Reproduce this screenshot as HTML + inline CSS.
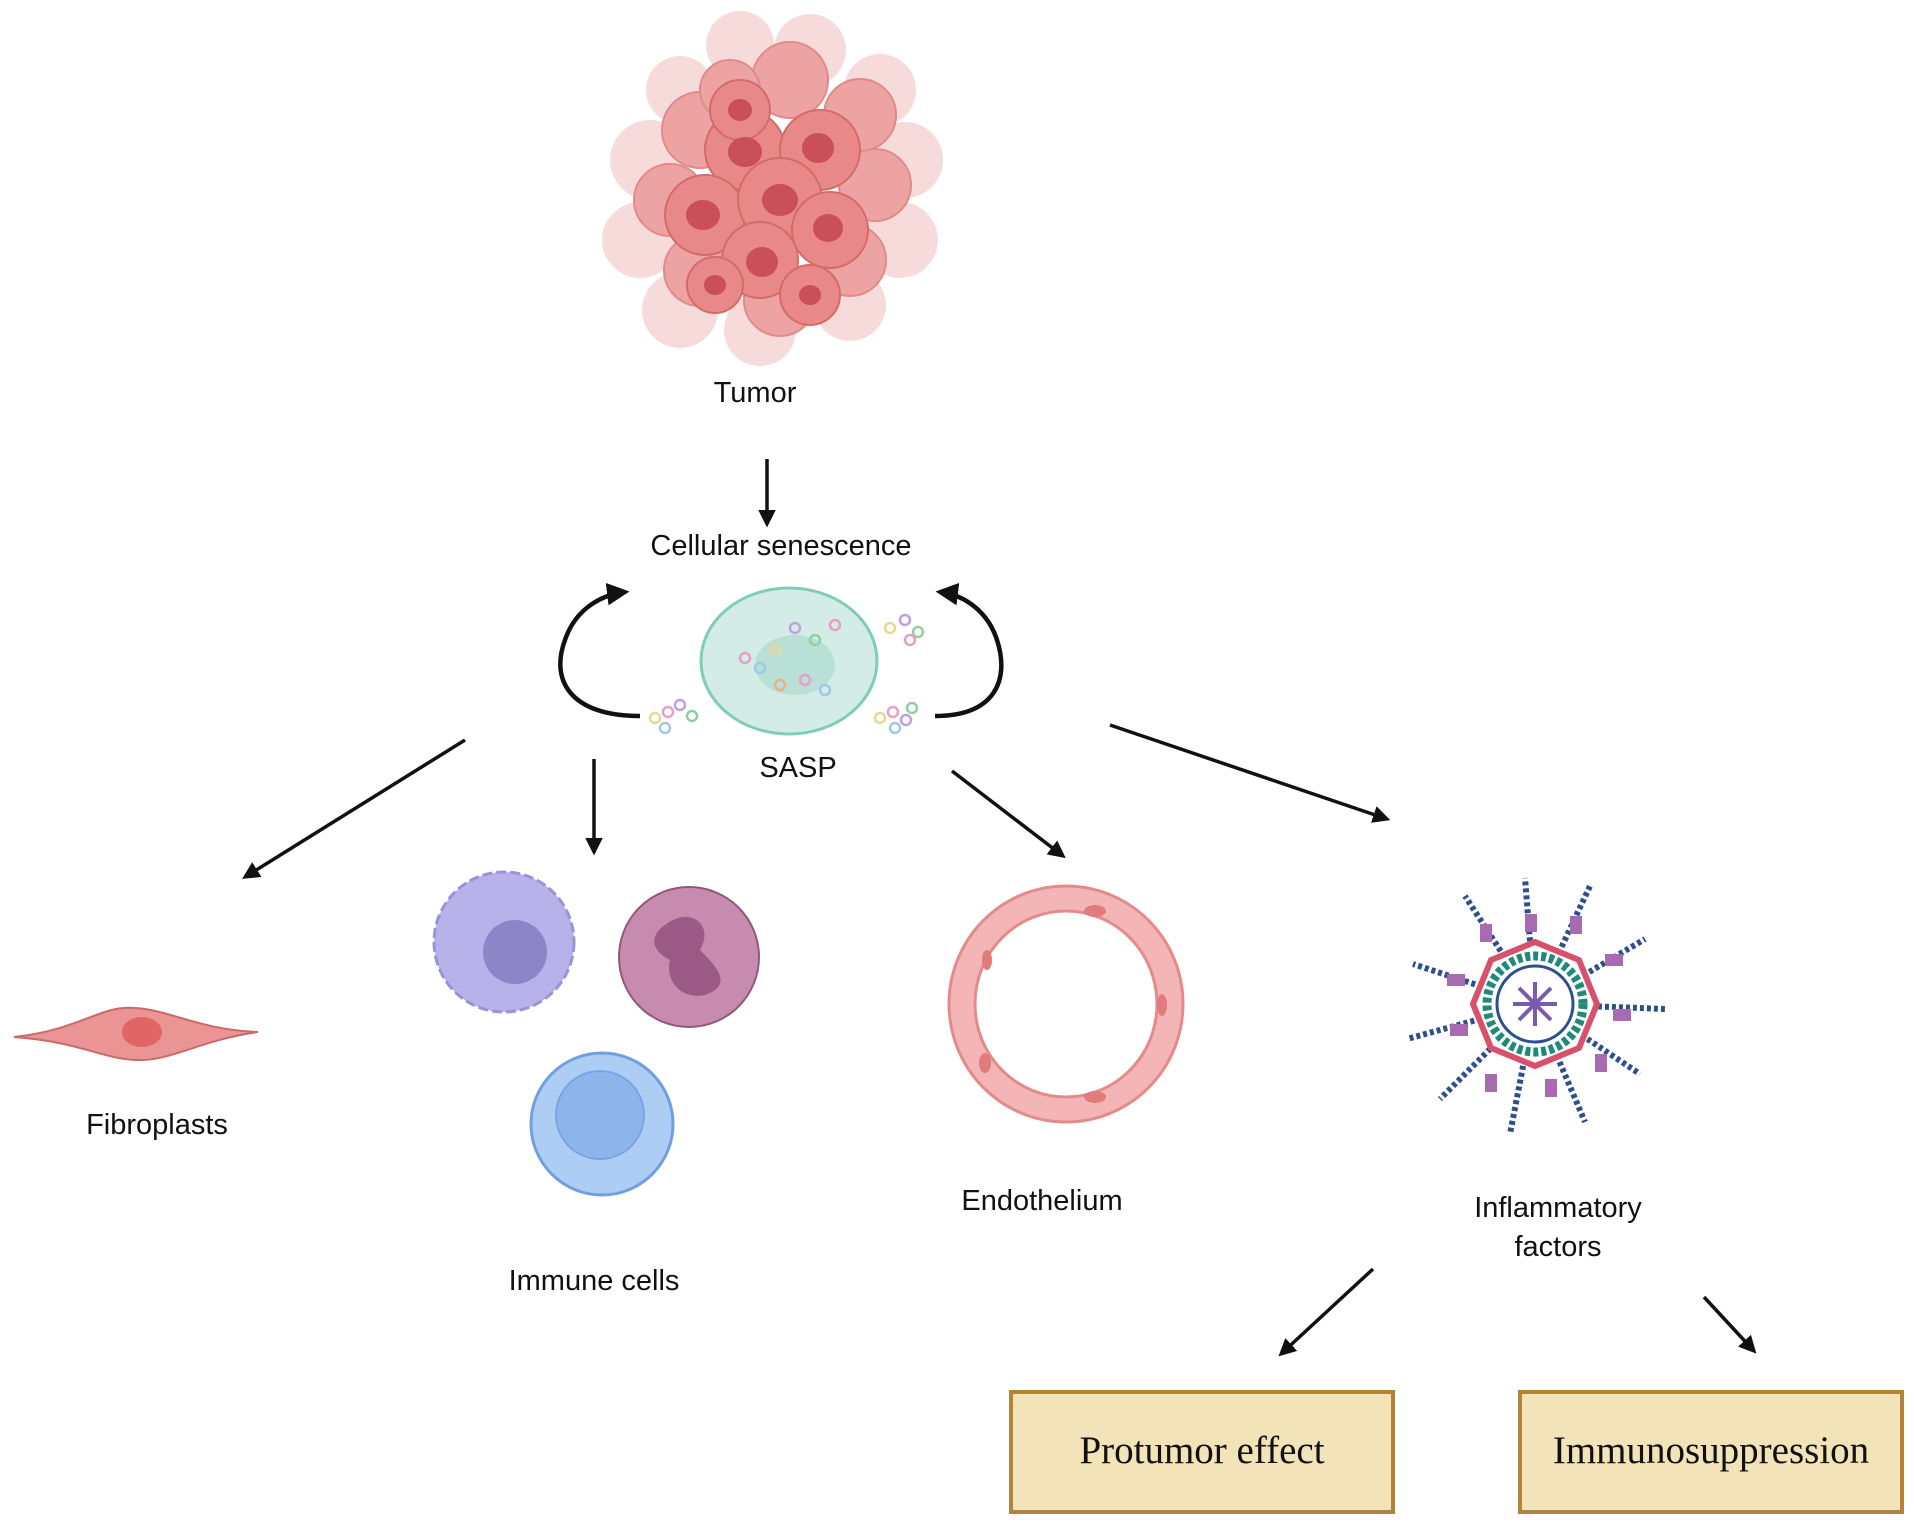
<!DOCTYPE html>
<html><head><meta charset="utf-8"><style>
html,body{margin:0;padding:0;background:#fff;}
svg{display:block;}
text{font-family:"Liberation Sans",sans-serif;fill:#111;}
</style></head><body>
<svg width="1914" height="1524" viewBox="0 0 1914 1524" xmlns="http://www.w3.org/2000/svg">
<defs>
<marker id="ah" viewBox="0 0 10 10" refX="8" refY="5" markerWidth="5" markerHeight="5" orient="auto"><path d="M0,0 L10,5 L0,10 z" fill="#111"/></marker>
</defs>

<!-- Tumor -->
<g>
<g fill="#f6d2d2" opacity="0.8">
<circle cx="650" cy="160" r="40"/><circle cx="640" cy="240" r="38"/><circle cx="680" cy="310" r="38"/>
<circle cx="760" cy="330" r="36"/><circle cx="850" cy="305" r="36"/><circle cx="900" cy="240" r="38"/>
<circle cx="905" cy="160" r="38"/><circle cx="880" cy="90" r="36"/><circle cx="810" cy="50" r="36"/>
<circle cx="740" cy="45" r="34"/><circle cx="680" cy="90" r="34"/>
</g>
<g fill="#eea3a3" stroke="#e08a8a" stroke-width="2">
<circle cx="700" cy="130" r="38"/><circle cx="670" cy="200" r="36"/><circle cx="700" cy="270" r="36"/>
<circle cx="780" cy="300" r="36"/><circle cx="850" cy="260" r="36"/><circle cx="875" cy="185" r="36"/>
<circle cx="860" cy="115" r="36"/><circle cx="790" cy="80" r="38"/><circle cx="730" cy="90" r="30"/>
</g>
<g fill="#e88888" stroke="#d46b6b" stroke-width="2">
<circle cx="745" cy="150" r="40"/><circle cx="820" cy="150" r="40"/><circle cx="705" cy="215" r="40"/>
<circle cx="780" cy="200" r="42"/><circle cx="830" cy="230" r="38"/><circle cx="760" cy="260" r="38"/>
<circle cx="740" cy="110" r="30"/><circle cx="715" cy="285" r="28"/><circle cx="810" cy="295" r="30"/>
</g>
<g fill="#c94f5a">
<ellipse cx="745" cy="152" rx="17" ry="15"/><ellipse cx="818" cy="148" rx="16" ry="15"/><ellipse cx="703" cy="215" rx="17" ry="15"/>
<ellipse cx="780" cy="200" rx="18" ry="16"/><ellipse cx="828" cy="228" rx="15" ry="14"/><ellipse cx="762" cy="262" rx="16" ry="15"/>
<ellipse cx="740" cy="110" rx="12" ry="11"/><ellipse cx="715" cy="285" rx="11" ry="10"/><ellipse cx="810" cy="295" rx="11" ry="10"/>
</g>
</g>
<text x="755" y="402" font-size="29" text-anchor="middle">Tumor</text>

<line x1="767" y1="459" x2="767" y2="524" stroke="#111" stroke-width="3.5" marker-end="url(#ah)"/>
<text x="781" y="555" font-size="29" text-anchor="middle">Cellular senescence</text>

<!-- Senescent cell -->
<ellipse cx="789" cy="661" rx="88" ry="73" fill="#d3ece5" stroke="#7fcdb8" stroke-width="3"/>
<ellipse cx="795" cy="665" rx="40" ry="30" fill="#b8e0d5"/>
<g fill="none" stroke-width="2.5">
<circle cx="745" cy="658" r="5" stroke="#e6a0c8"/><circle cx="760" cy="668" r="5" stroke="#a0c8e8"/><circle cx="775" cy="650" r="5" stroke="#e8d890"/>
<circle cx="795" cy="628" r="5" stroke="#c0a0e0"/><circle cx="815" cy="640" r="5" stroke="#90d0a0"/><circle cx="805" cy="680" r="5" stroke="#e6a0c8"/>
<circle cx="825" cy="690" r="5" stroke="#a0c8e8"/><circle cx="780" cy="685" r="5" stroke="#e8b090"/><circle cx="835" cy="625" r="5" stroke="#e6a0c8"/>
<circle cx="890" cy="628" r="5" stroke="#e8d890"/><circle cx="905" cy="620" r="5" stroke="#c0a0e0"/><circle cx="918" cy="632" r="5" stroke="#90d0a0"/><circle cx="910" cy="640" r="5" stroke="#e6a0c8"/>
<circle cx="655" cy="718" r="5" stroke="#e8d890"/><circle cx="668" cy="712" r="5" stroke="#e6a0c8"/><circle cx="680" cy="705" r="5" stroke="#c0a0e0"/><circle cx="692" cy="716" r="5" stroke="#90d0a0"/><circle cx="665" cy="728" r="5" stroke="#a0c8e8"/>
<circle cx="880" cy="718" r="5" stroke="#e8d890"/><circle cx="893" cy="712" r="5" stroke="#e6a0c8"/><circle cx="906" cy="720" r="5" stroke="#c0a0e0"/><circle cx="912" cy="708" r="5" stroke="#90d0a0"/><circle cx="895" cy="728" r="5" stroke="#a0c8e8"/>
</g>
<path d="M640,716 C570,716 550,680 565,640 C575,610 600,595 625,592" fill="none" stroke="#111" stroke-width="4.5" marker-end="url(#ah)"/>
<path d="M935,716 C995,716 1010,680 997,640 C988,612 965,595 940,592" fill="none" stroke="#111" stroke-width="4.5" marker-end="url(#ah)"/>
<text x="798" y="777" font-size="29" text-anchor="middle">SASP</text>

<g stroke="#111" stroke-width="3.5" marker-end="url(#ah)">
<line x1="465" y1="740" x2="245" y2="877"/>
<line x1="594" y1="759" x2="594" y2="852"/>
<line x1="952" y1="771" x2="1063" y2="856"/>
<line x1="1110" y1="725" x2="1387" y2="819"/>
<line x1="1373" y1="1269" x2="1281" y2="1354"/>
<line x1="1704" y1="1297" x2="1754" y2="1351"/>
</g>

<!-- Fibroblast -->
<path d="M14,1037 C80,1030 100,1005 135,1008 C170,1010 200,1030 258,1032 C200,1040 170,1062 135,1060 C100,1058 80,1042 14,1037 z" fill="#eb9494" stroke="#c96a6a" stroke-width="2"/>
<ellipse cx="142" cy="1032" rx="20" ry="15" fill="#e06666"/>
<text x="157" y="1134" font-size="29" text-anchor="middle">Fibroplasts</text>

<!-- Immune cells -->
<circle cx="504" cy="942" r="70" fill="#b7b2ea" stroke="#9a93d8" stroke-width="3" stroke-dasharray="10 4"/>
<circle cx="515" cy="952" r="32" fill="#8d85c8"/>
<circle cx="689" cy="957" r="70" fill="#c88bb0" stroke="#8f5a7a" stroke-width="2"/>
<path d="M665,925 C690,905 715,925 700,950 C715,965 735,985 705,995 C680,1000 665,980 670,960 C650,950 650,935 665,925 z" fill="#9b5a85"/>
<circle cx="602" cy="1124" r="71" fill="#aecdf5" stroke="#6f9fe0" stroke-width="3"/>
<circle cx="600" cy="1115" r="44" fill="#8db5ec" stroke="#7aa5e4" stroke-width="2"/>
<text x="594" y="1290" font-size="29" text-anchor="middle">Immune cells</text>

<!-- Endothelium -->
<ellipse cx="1066" cy="1004" rx="117" ry="118" fill="#f3b5b5" stroke="#e58a8a" stroke-width="3"/>
<ellipse cx="1066" cy="1004" rx="91" ry="93" fill="#fff" stroke="#e58a8a" stroke-width="3"/>
<g fill="#e27c7c">
<ellipse cx="1095" cy="911" rx="11" ry="6"/><ellipse cx="987" cy="960" rx="5" ry="10"/><ellipse cx="1162" cy="1005" rx="5" ry="11"/>
<ellipse cx="985" cy="1063" rx="6" ry="10"/><ellipse cx="1095" cy="1097" rx="11" ry="6"/>
</g>
<text x="1042" y="1210" font-size="29" text-anchor="middle">Endothelium</text>

<!-- Inflammatory factors -->
<g transform="translate(1535,1004)">
<g stroke="#2e4f8f" stroke-width="6" stroke-dasharray="4 3">
<line x1="0" y1="0" x2="-10" y2="-126"/><line x1="0" y1="0" x2="55" y2="-118"/><line x1="0" y1="0" x2="110" y2="-65"/>
<line x1="0" y1="0" x2="130" y2="5"/><line x1="0" y1="0" x2="105" y2="70"/><line x1="0" y1="0" x2="50" y2="118"/>
<line x1="0" y1="0" x2="-25" y2="130"/><line x1="0" y1="0" x2="-95" y2="95"/><line x1="0" y1="0" x2="-128" y2="35"/>
<line x1="0" y1="0" x2="-122" y2="-40"/><line x1="0" y1="0" x2="-70" y2="-108"/>
</g>
<g fill="#a86ab0">
<rect x="-10" y="-90" width="12" height="18"/><rect x="35" y="-88" width="12" height="18"/><rect x="70" y="-50" width="18" height="12"/>
<rect x="78" y="5" width="18" height="12"/><rect x="60" y="50" width="12" height="18"/><rect x="10" y="75" width="12" height="18"/>
<rect x="-50" y="70" width="12" height="18"/><rect x="-85" y="20" width="18" height="12"/><rect x="-88" y="-30" width="18" height="12"/><rect x="-55" y="-80" width="12" height="18"/>
</g>
<polygon points="0,-62 44,-44 62,0 44,44 0,62 -44,44 -62,0 -44,-44" fill="#fff" stroke="#d8516b" stroke-width="6"/>
<circle r="48" fill="none" stroke="#1f8a7a" stroke-width="9" stroke-dasharray="5 3"/>
<circle r="38" fill="#fff" stroke="#2e4f8f" stroke-width="3"/>
<g stroke="#7a5bb0" stroke-width="4">
<line x1="-22" y1="0" x2="22" y2="0"/><line x1="0" y1="-22" x2="0" y2="22"/><line x1="-16" y1="-16" x2="16" y2="16"/><line x1="-16" y1="16" x2="16" y2="-16"/>
</g>
</g>
<text x="1558" y="1217" font-size="29" text-anchor="middle">Inflammatory</text>
<text x="1558" y="1256" font-size="29" text-anchor="middle">factors</text>

<rect x="1011" y="1392" width="382" height="120" fill="#f3e3b9" stroke="#b5823a" stroke-width="4"/>
<text x="1202" y="1463" font-size="39" text-anchor="middle" style="font-family:'Liberation Serif',serif">Protumor effect</text>
<rect x="1520" y="1392" width="382" height="120" fill="#f3e3b9" stroke="#b5823a" stroke-width="4"/>
<text x="1711" y="1463" font-size="39" text-anchor="middle" style="font-family:'Liberation Serif',serif">Immunosuppression</text>
</svg>
</body></html>
